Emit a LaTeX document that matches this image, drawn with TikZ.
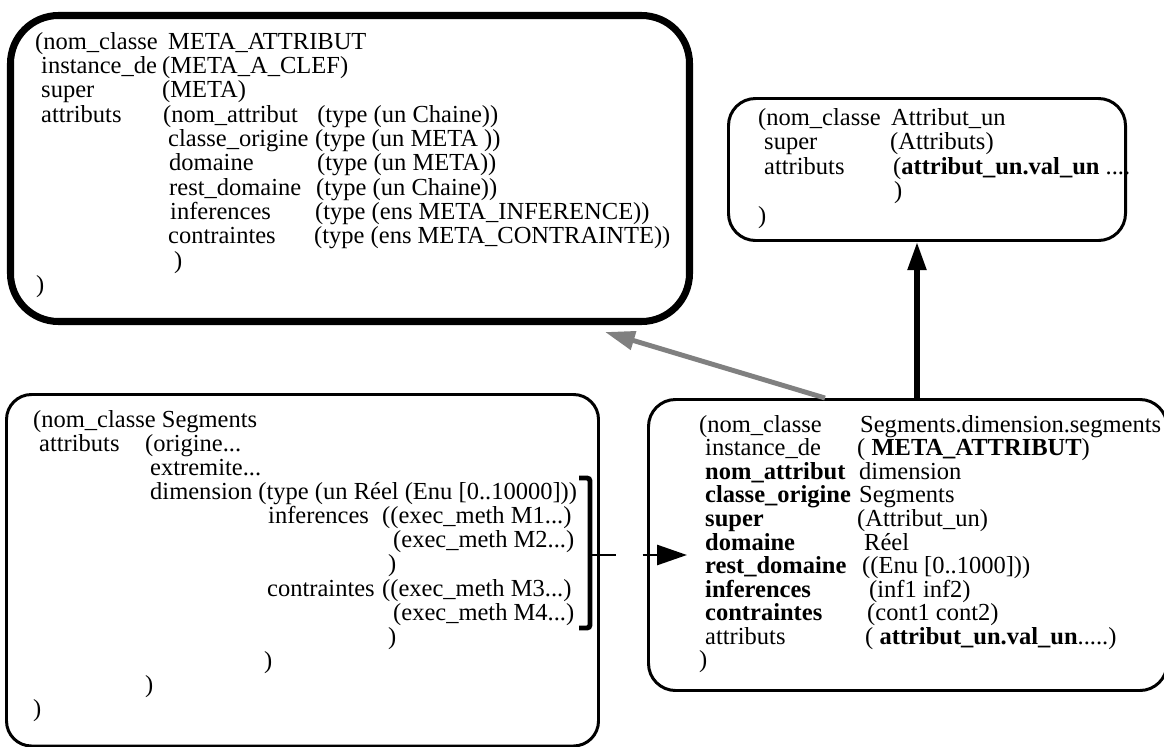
\documentclass[tikz,border=0pt]{standalone}
\usepackage{fontspec}
\setmainfont{Liberation Serif}
\usetikzlibrary{arrows.meta}

\newlength{\pix}
\setlength{\pix}{0.02cm}
% place a piece of text at a fixed offset from the start of the line
\newcommand{\placer}[2]{\rlap{\hspace*{#1\pix}#2}}

\tikzset{
    cadre/.style={draw, rounded corners=27\pix, line width=1.7pt, inner sep=0pt},
    texte/.style={anchor=north west, inner sep=0pt, align=left,
        font=\fontsize{13.95pt}{#1}\selectfont},
    fleche/.style={-{Triangle[length=17pt,width=10pt]}},
}

\begin{document}
\begin{tikzpicture}[x=0.02cm, y=-0.02cm]
    \useasboundingbox (0,0) rectangle (1164,747);

    % the four frames
    \node[cadre, rounded corners=48\pix, line width=4pt, minimum width=679\pix, minimum height=306\pix] (A) at (350,168.5) {};
    \node[cadre, minimum width=397\pix, minimum height=142\pix] (B) at (927,169.5) {};
    \node[cadre, rounded corners=25\pix, minimum width=592\pix, minimum height=351.5\pix] (C) at (302.5,570.25) {};
    \node[cadre, minimum width=518.5\pix, minimum height=291\pix] (D) at (907.75,545) {};

    \node[texte=13.83pt] (tA) at (34,32) {%
        \placer{0}{(nom\_classe}\placer{133}{META\_ATTRIBUT}\\
        \placer{6}{instance\_de}\placer{127}{(META\_A\_CLEF)}\\
        \placer{6}{super}\placer{127}{(META)}\\
        \placer{6}{attributs}\placer{128}{(nom\_attribut}\placer{282}{(type (un Chaine))}\\
        \placer{133}{classe\_origine}\placer{280}{(type (un META ))}\\
        \placer{134}{domaine}\placer{282}{(type (un META))}\\
        \placer{134}{rest\_domaine}\placer{281}{(type (un Chaine))}\\
        \placer{135}{inferences}\placer{280}{(type (ens META\_INFERENCE))}\\
        \placer{133}{contraintes}\placer{279}{(type (ens META\_CONTRAINTE))}\\
        \placer{139}{)}\\
        \placer{1}{)}};

    \node[texte=13.95pt] (tB) at (757,108) {%
        \placer{0}{(nom\_classe}\placer{133}{Attribut\_un}\\
        \placer{6}{super}\placer{132}{(Attributs)}\\
        \placer{6}{attributs}\placer{135}{(\textbf{attribut\_un.val\_un} ....}\\
        \placer{136}{)}\\
        \placer{0}{)}};

    \node[texte=13.72pt] (tC) at (32,410) {%
        \placer{0}{(nom\_classe Segments}\\
        \placer{6}{attributs}\placer{112}{(origine...}\\
        \placer{117}{extremite...}\\
        \placer{117}{dimension (type (un Réel (Enu [0..10000]))}\\
        \placer{235}{inferences}\placer{349}{((exec\_meth M1...)}\\
        \placer{360}{(exec\_meth M2...)}\\
        \placer{355}{)}\\
        \placer{234}{contraintes}\placer{349}{((exec\_meth M3...)}\\
        \placer{360}{(exec\_meth M4...)}\\
        \placer{355}{)}\\
        \placer{231}{)}\\
        \placer{112}{)}\\
        \placer{0}{)}};

    \node[texte=13.4pt] (tD) at (698,415) {%
        \placer{0}{(nom\_classe}\placer{161}{Segments.dimension.segments}\\
        \placer{6}{instance\_de}\placer{158}{( \textbf{META\_ATTRIBUT})}\\
        \placer{6}{\textbf{nom\_attribut}}\placer{160}{dimension}\\
        \placer{6}{\textbf{classe\_origine}}\placer{160}{Segments}\\
        \placer{6}{\textbf{super}}\placer{158}{(Attribut\_un)}\\
        \placer{6}{\textbf{domaine}}\placer{165}{Réel}\\
        \placer{6}{\textbf{rest\_domaine}}\placer{163}{((Enu [0..1000]))}\\
        \placer{6}{\textbf{inferences}}\placer{170}{(inf1 inf2)}\\
        \placer{6}{\textbf{contraintes}}\placer{168}{(cont1 cont2)}\\
        \placer{6}{attributs}\placer{166}{( \textbf{attribut\_un.val\_un}.....)}\\
        \placer{0}{)}};

    % bracket round the attribute dimension
    \draw[line width=2.8pt, rounded corners=3\pix] (579,478) -- (590,478) -- (590,628) -- (579,628);
    \coordinate (crochet) at (590,555);
    \coordinate (cible) at (687,555);
    \coordinate (pA) at (605,332);

    \draw[fleche, line width=1.7pt, dash pattern=on 15pt off 15pt,
        -{Triangle[length=17pt,width=11.3pt]}] (crochet) -- (cible);
    \draw[fleche, gray, line width=2.8pt, -{Triangle[length=17pt,width=10.5pt]}]
        ([xshift=-82.75\pix]D.north) -- (pA);
    \draw[fleche, line width=3.1pt, -{Triangle[length=16pt,width=10.2pt]}]
        ([xshift=9.25\pix]D.north) -- ([xshift=9.25\pix]D.north |- B.south);
\end{tikzpicture}
\end{document}
